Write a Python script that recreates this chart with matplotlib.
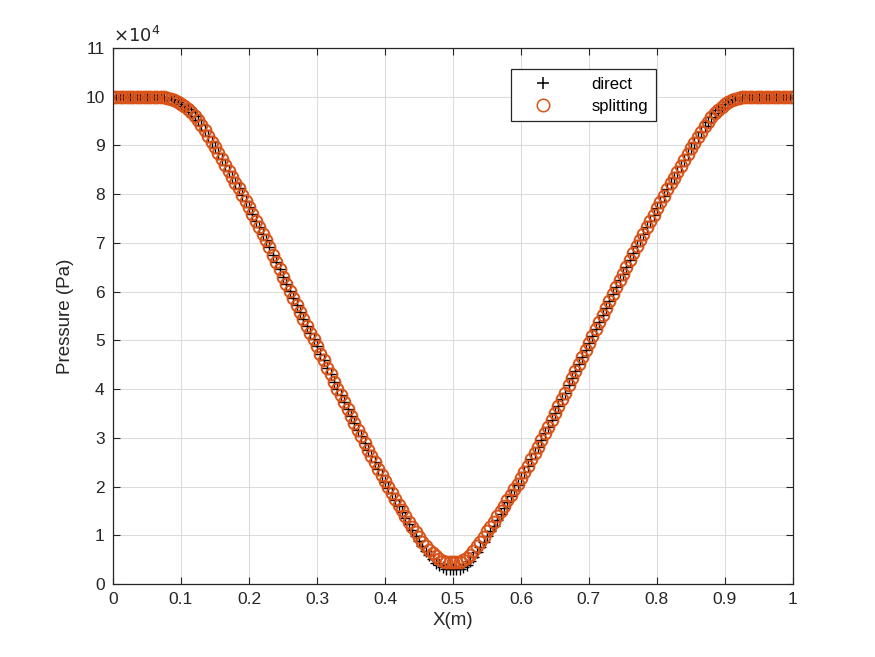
import numpy as np
import matplotlib.pyplot as plt

plt.rcParams['font.family'] = ['Liberation Sans', 'DejaVu Sans']

# x grid, 201 points from 0 to 1
x = np.linspace(0, 1, 201)

# pressure in units of 1e4 Pa
# splitting, x = 0 ... 0.5
split_left = [
    10.00, 10.00, 10.00, 10.00, 10.00, 10.00, 10.00, 10.00, 10.00, 10.00,
    10.00, 10.00, 10.00, 10.00, 10.00, 10.00, 9.98, 9.96, 9.93, 9.89,
    9.85, 9.80, 9.74, 9.68, 9.61, 9.52, 9.42, 9.31, 9.20, 9.08,
    8.96, 8.84, 8.72, 8.60, 8.48, 8.36, 8.24, 8.12, 7.99, 7.86,
    7.73, 7.60, 7.46, 7.33, 7.19, 7.05, 6.91, 6.76, 6.61, 6.46,
    6.31, 6.16, 6.01, 5.86, 5.72, 5.58, 5.44, 5.30, 5.16, 5.02,
    4.88, 4.73, 4.59, 4.44, 4.30, 4.15, 4.01, 3.87, 3.73, 3.59,
    3.45, 3.31, 3.17, 3.03, 2.89, 2.76, 2.63, 2.50, 2.37, 2.24,
    2.11, 1.99, 1.87, 1.75, 1.63, 1.51, 1.39, 1.28, 1.17, 1.06,
    0.96, 0.87, 0.78, 0.70, 0.63, 0.57, 0.52, 0.48, 0.46, 0.45,
    0.45,
]
# splitting, x = 0.505 ... 1
split_right = [
    0.45, 0.46, 0.49, 0.54, 0.60, 0.68, 0.77, 0.87, 0.97, 1.08,
    1.18, 1.28, 1.39, 1.50, 1.61, 1.72, 1.83, 1.94, 2.05,
    2.17, 2.30, 2.43, 2.56, 2.69, 2.82, 2.95, 3.09, 3.23, 3.37,
    3.51, 3.65, 3.79, 3.93, 4.08, 4.22, 4.37, 4.51, 4.66, 4.80,
    4.95, 5.09, 5.24, 5.38, 5.53, 5.67, 5.81, 5.95, 6.09, 6.23,
    6.37, 6.51, 6.65, 6.79, 6.93, 7.06, 7.19, 7.32, 7.45, 7.58,
    7.71, 7.84, 7.97, 8.10, 8.22, 8.34, 8.46, 8.58, 8.70, 8.82,
    8.94, 9.06, 9.17, 9.28, 9.39, 9.49, 9.58, 9.66, 9.73, 9.79,
    9.85, 9.89, 9.93, 9.96, 9.98,
    10.00, 10.00, 10.00, 10.00, 10.00, 10.00, 10.00, 10.00,
    10.00, 10.00, 10.00, 10.00, 10.00, 10.00, 10.00, 10.00,
]
# direct, x = 0 ... 0.5
direct_left = [
    10.00, 10.00, 10.00, 10.00, 10.00, 10.00, 10.00, 10.00, 10.00, 10.00,
    10.00, 10.00, 10.00, 10.00, 10.00, 10.00, 9.98, 9.96, 9.93, 9.89,
    9.85, 9.80, 9.74, 9.68, 9.61, 9.52, 9.42, 9.31, 9.20, 9.08,
    8.96, 8.84, 8.72, 8.60, 8.48, 8.36, 8.24, 8.12, 7.99, 7.86,
    7.73, 7.60, 7.46, 7.33, 7.19, 7.05, 6.91, 6.76, 6.61, 6.46,
    6.31, 6.16, 6.01, 5.86, 5.72, 5.58, 5.44, 5.30, 5.16, 5.02,
    4.88, 4.73, 4.59, 4.44, 4.30, 4.15, 4.01, 3.87, 3.73, 3.59,
    3.45, 3.31, 3.17, 3.03, 2.89, 2.76, 2.63, 2.50, 2.37, 2.24,
    2.10, 1.98, 1.86, 1.73, 1.60, 1.48, 1.35, 1.23, 1.11, 0.99,
    0.88, 0.78, 0.68, 0.59, 0.51, 0.44, 0.38, 0.34, 0.31, 0.30,
    0.30,
]
# direct, x = 0.505 ... 1
direct_right = [
    0.30, 0.31, 0.35, 0.40, 0.47, 0.55, 0.65, 0.75, 0.86, 0.98,
    1.09, 1.20, 1.32, 1.44, 1.56, 1.68, 1.80, 1.92, 2.04,
    2.17, 2.30, 2.43, 2.56, 2.69, 2.82, 2.95, 3.09, 3.23, 3.37,
    3.51, 3.65, 3.79, 3.93, 4.08, 4.22, 4.37, 4.51, 4.66, 4.80,
    4.95, 5.09, 5.24, 5.38, 5.53, 5.67, 5.81, 5.95, 6.09, 6.23,
    6.37, 6.51, 6.65, 6.79, 6.93, 7.06, 7.19, 7.32, 7.45, 7.58,
    7.71, 7.84, 7.97, 8.10, 8.22, 8.34, 8.46, 8.58, 8.70, 8.82,
    8.94, 9.06, 9.17, 9.28, 9.39, 9.49, 9.58, 9.66, 9.73, 9.79,
    9.85, 9.89, 9.93, 9.96, 9.98,
    10.00, 10.00, 10.00, 10.00, 10.00, 10.00, 10.00, 10.00,
    10.00, 10.00, 10.00, 10.00, 10.00, 10.00, 10.00, 10.00,
]

p_split = np.array(split_left + split_right) * 1e4
p_direct = np.array(direct_left + direct_right) * 1e4

dark = '#262626'
orange = '#D95319'

fig = plt.figure(figsize=(8.75, 6.57), dpi=100)
ax = fig.add_axes([0.1291, 0.1111, 0.7771, 0.8158])

ax.plot(x, p_direct, '+', color='k', markersize=8.5, markeredgewidth=1.0, label='direct')
ax.plot(x, p_split, 'o', color=orange, markerfacecolor='none', markersize=8.5,
        markeredgewidth=1.4, label='splitting')

ax.set_xlim(0, 1)
ax.set_ylim(0, 11e4)
ax.set_xticks(np.arange(0, 1.01, 0.1))
ax.set_xticklabels(['0', '0.1', '0.2', '0.3', '0.4', '0.5', '0.6', '0.7', '0.8', '0.9', '1'])
ax.set_yticks(np.arange(0, 11.01, 1) * 1e4)
ax.set_yticklabels([str(i) for i in range(12)])

ax.grid(True, color='#dcdcdc', linewidth=0.8)
ax.set_axisbelow(True)
ax.tick_params(direction='in', length=5, width=0.8, colors=dark, labelsize=12.5,
               top=True, right=True, pad=6)
for s in ax.spines.values():
    s.set_color(dark)
    s.set_linewidth(0.9)

ax.set_xlabel('X(m)', fontsize=13.5, color=dark, labelpad=3)
ax.set_ylabel('Pressure (Pa)', fontsize=13.5, color=dark, labelpad=8)
ax.text(0.0, 1.003, r'$\times10^{4}$', transform=ax.transAxes, fontsize=13,
        color=dark, ha='left', va='bottom')

leg = ax.legend(loc='upper left', bbox_to_anchor=(0.585, 0.96), fontsize=12,
                fancybox=False, framealpha=1, edgecolor=dark, borderpad=0.45,
                handletextpad=1.4, borderaxespad=0, handlelength=3.0,
                labelspacing=0.4)
leg.get_frame().set_linewidth(0.9)
for h in leg.legend_handles:
    h.set_markersize(9)
    h.set_markeredgewidth(1.1)
for t in leg.get_texts():
    t.set_color('k')

fig.savefig('out.png', dpi=100)
